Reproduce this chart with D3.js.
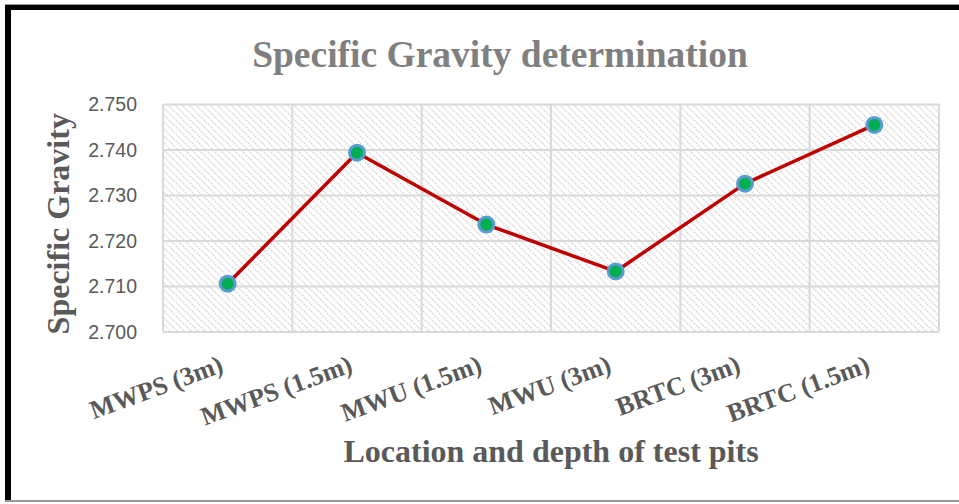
<!DOCTYPE html>
<html>
<head>
<meta charset="utf-8">
<script src="https://cdn.jsdelivr.net/npm/d3@7"></script>
<style>
  html, body { margin: 0; padding: 0; background: #fff; }
  svg { display: block; }
</style>
</head>
<body>
<svg id="chart" width="959" height="504"></svg>
<script>
// Test pit locations and depths
const categories = ["MWPS (3m)", "MWPS (1.5m)", "MWU (1.5m)", "MWU (3m)", "BRTC (3m)", "BRTC (1.5m)"];
// Specific gravity per pit
const gravity = [2.7105, 2.7393, 2.7235, 2.7132, 2.7325, 2.7454];
// Y axis ticks
const yTicks = [2.700, 2.710, 2.720, 2.730, 2.740, 2.750];

const W = 959, H = 504;
const plot = { left: 163, right: 939, top: 104, bottom: 331.5 };

const svg = d3.select("#chart");

// hatch fill for the plot area
const defs = svg.append("defs");
const pat = defs.append("pattern")
  .attr("id", "hatch")
  .attr("patternUnits", "userSpaceOnUse")
  .attr("width", 7).attr("height", 7);
pat.append("path")
  .attr("d", "M-1,-1 L8,8 M-1,6 L1,8 M6,-1 L8,1")
  .attr("stroke", "#d6d6d6")
  .attr("stroke-width", 1.4)
  .attr("stroke-dasharray", "1.8,1.0");

// outer frame
svg.append("rect").attr("x", 0).attr("y", 0).attr("width", W).attr("height", H).attr("fill", "#fff");
svg.append("line").attr("x1", 5).attr("x2", W).attr("y1", 4.5).attr("y2", 4.5)
  .attr("stroke", "#999").attr("stroke-width", 1);
svg.append("line").attr("x1", 8).attr("x2", W).attr("y1", 7.5).attr("y2", 7.5)
  .attr("stroke", "#000").attr("stroke-width", 5);
svg.append("line").attr("x1", 8).attr("x2", 8).attr("y1", 5).attr("y2", 501)
  .attr("stroke", "#000").attr("stroke-width", 6);
svg.append("line").attr("x1", 5).attr("x2", W).attr("y1", 501).attr("y2", 501)
  .attr("stroke", "#999").attr("stroke-width", 2);

const x = d3.scaleBand().domain(categories).range([plot.left, plot.right]).padding(0);
const y = d3.scaleLinear().domain([2.700, 2.750]).range([plot.bottom, plot.top]);

// plot background
svg.append("rect")
  .attr("x", plot.left).attr("y", plot.top)
  .attr("width", plot.right - plot.left).attr("height", plot.bottom - plot.top)
  .attr("fill", "url(#hatch)");

// horizontal gridlines
const yAxis = d3.axisLeft(y).tickValues(yTicks).tickFormat(d3.format(".3f"))
  .tickSize(-(plot.right - plot.left)).tickPadding(26);
const gy = svg.append("g").attr("transform", `translate(${plot.left},0)`).call(yAxis);
gy.select(".domain").remove();
gy.selectAll(".tick line").attr("stroke", "#d9d9d9").attr("stroke-width", 2);
gy.selectAll(".tick text")
  .attr("fill", "#595959")
  .style("font-family", "'Liberation Sans', Arial, sans-serif")
  .style("font-size", "19.5px")
  .attr("dy", "0.35em");

// vertical gridlines at category boundaries
const bounds = categories.map(c => x(c)).concat([plot.right]);
svg.append("g").selectAll("line").data(bounds).join("line")
  .attr("x1", d => d).attr("x2", d => d)
  .attr("y1", plot.top).attr("y2", plot.bottom)
  .attr("stroke", "#d9d9d9").attr("stroke-width", 2);

// x category labels (rotated)
const xAxis = d3.axisBottom(x).tickSize(0).tickPadding(0);
const gx = svg.append("g").attr("transform", `translate(0,${plot.bottom})`).call(xAxis);
gx.select(".domain").remove();
gx.selectAll(".tick text")
  .attr("fill", "#595959")
  .style("font-family", "'Liberation Serif', 'Times New Roman', serif")
  .style("font-weight", "bold")
  .style("font-size", "26px")
  .attr("text-anchor", "end")
  .attr("dy", null)
  .attr("y", 0)
  .attr("transform", "translate(-3,40) rotate(-20)");

// line series
const cx = d => x(d) + x.bandwidth() / 2;
const line = d3.line().x((d, i) => cx(categories[i])).y(d => y(d));
svg.append("path").datum(gravity)
  .attr("d", line)
  .attr("fill", "none")
  .attr("stroke", "#c00000")
  .attr("stroke-width", 3.5)
  .attr("stroke-linejoin", "round");

svg.append("g").selectAll("circle").data(gravity).join("circle")
  .attr("cx", (d, i) => cx(categories[i]))
  .attr("cy", d => y(d))
  .attr("r", 7.5)
  .attr("fill", "#00b050")
  .attr("stroke", "#5b9bd5")
  .attr("stroke-width", 3);

// titles
svg.append("text")
  .attr("x", 500).attr("y", 67)
  .attr("text-anchor", "middle")
  .attr("fill", "#7f7f7f")
  .style("font-family", "'Liberation Serif', 'Times New Roman', serif")
  .style("font-weight", "bold")
  .style("font-size", "37.5px")
  .text("Specific Gravity determination");

svg.append("text")
  .attr("transform", `translate(69,${(plot.top + plot.bottom) / 2 + 6}) rotate(-90)`)
  .attr("text-anchor", "middle")
  .attr("fill", "#595959")
  .style("font-family", "'Liberation Serif', 'Times New Roman', serif")
  .style("font-weight", "bold")
  .style("font-size", "32px")
  .text("Specific Gravity");

svg.append("text")
  .attr("x", (plot.left + plot.right) / 2).attr("y", 462)
  .attr("text-anchor", "middle")
  .attr("fill", "#595959")
  .style("font-family", "'Liberation Serif', 'Times New Roman', serif")
  .style("font-weight", "bold")
  .style("font-size", "32px")
  .text("Location and depth of test pits");
</script>
</body>
</html>
